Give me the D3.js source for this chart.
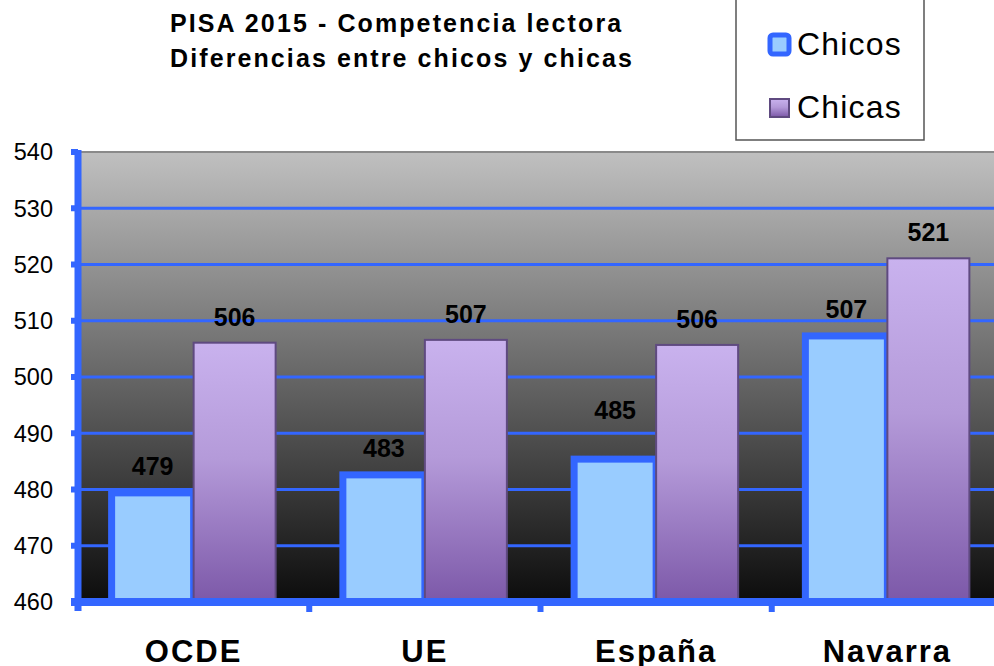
<!DOCTYPE html>
<html>
<head>
<meta charset="utf-8">
<script src="https://cdn.jsdelivr.net/npm/d3@7"></script>
<style>
  html, body { margin: 0; padding: 0; background: #fff; }
  svg { display: block; font-family: "Liberation Sans", Arial, sans-serif; }
</style>
</head>
<body>
<script>
var wW = 994;
var wH = 666;

// data
var categories = ["OCDE", "UE", "España", "Navarra"];
var seriesNames = ["Chicos", "Chicas"];
var chicos = [479.4, 482.6, 485.4, 507.3];
var chicas = [506.1, 506.6, 505.7, 521.1];
var yTicks = [460, 470, 480, 490, 500, 510, 520, 530, 540];
var titleLines = ["PISA 2015 - Competencia lectora", "Diferencias entre chicos y chicas"];

var blue = "#3366ff";

// the España "Chicos" label sits higher than the others in the original
var extraLift = { "España": 22 };

var svg = d3.select("body").append("svg")
  .attr("width", wW)
  .attr("height", wH);

var defs = svg.append("defs");

var bg = defs.append("linearGradient")
  .attr("id", "bgGrad")
  .attr("x1", 0).attr("y1", 0).attr("x2", 0).attr("y2", 1);
bg.append("stop").attr("offset", "0%").attr("stop-color", "#c0c0c0");
bg.append("stop").attr("offset", "100%").attr("stop-color", "#0c0c0c");

var pg = defs.append("linearGradient")
  .attr("id", "purpleGrad")
  .attr("x1", 0).attr("y1", 0).attr("x2", 0).attr("y2", 1);
pg.append("stop").attr("offset", "0%").attr("stop-color", "#c9b2ee");
pg.append("stop").attr("offset", "45%").attr("stop-color", "#b49ad9");
pg.append("stop").attr("offset", "100%").attr("stop-color", "#7c58a8");

// plot area
var pLeft = 78, pRight = 1003, pTop = 152, pBottom = 602;

var y = d3.scaleLinear().domain([460, 540]).range([pBottom, pTop]);
var x = d3.scaleBand().domain(categories).range([pLeft, pRight]).padding(0);
var xs = d3.scaleBand().domain(seriesNames).range([0, x.bandwidth()])
  .paddingInner(0).paddingOuter(0.41);

svg.append("rect")
  .attr("x", pLeft).attr("y", pTop)
  .attr("width", pRight - pLeft).attr("height", pBottom - pTop)
  .attr("fill", "url(#bgGrad)");

svg.append("line")
  .attr("x1", pLeft).attr("x2", pRight)
  .attr("y1", pTop).attr("y2", pTop)
  .attr("stroke", "#8a8a8a").attr("stroke-width", 2);

// gridlines
svg.append("g")
  .selectAll("line")
  .data(yTicks.filter(function(d) { return d > 460 && d < 540; }))
  .enter().append("line")
  .attr("x1", pLeft).attr("x2", pRight)
  .attr("y1", function(d) { return y(d); })
  .attr("y2", function(d) { return y(d); })
  .attr("stroke", blue).attr("stroke-width", 3);

// bars
var chicosG = svg.append("g");
categories.forEach(function(c, i) {
  chicosG.append("rect")
    .attr("x", x(c) + xs("Chicos"))
    .attr("y", y(chicos[i]))
    .attr("width", xs.bandwidth())
    .attr("height", pBottom - y(chicos[i]))
    .attr("fill", "#99ccff")
    .attr("stroke", blue)
    .attr("stroke-width", 7);
});

var chicasG = svg.append("g");
categories.forEach(function(c, i) {
  chicasG.append("rect")
    .attr("x", x(c) + xs("Chicas"))
    .attr("y", y(chicas[i]))
    .attr("width", xs.bandwidth())
    .attr("height", pBottom - y(chicas[i]))
    .attr("fill", "url(#purpleGrad)")
    .attr("stroke", "#5f4a80")
    .attr("stroke-width", 2);
});

// value labels
var labels = svg.append("g")
  .attr("font-size", 25)
  .attr("font-weight", "bold")
  .attr("fill", "#000")
  .attr("text-anchor", "middle");
categories.forEach(function(c, i) {
  labels.append("text")
    .attr("x", x(c) + xs("Chicos") + xs.bandwidth() / 2)
    .attr("y", y(chicos[i]) - 18 - (extraLift[c] || 0))
    .text(Math.round(chicos[i]));
  labels.append("text")
    .attr("x", x(c) + xs("Chicas") + xs.bandwidth() / 2)
    .attr("y", y(chicas[i]) - 17)
    .text(Math.round(chicas[i]));
});

// axes
var yAxis = svg.append("g");
yAxis.append("line")
  .attr("x1", pLeft).attr("x2", pLeft)
  .attr("y1", pTop - 2).attr("y2", pBottom + 9)
  .attr("stroke", blue).attr("stroke-width", 7);
yAxis.selectAll(".tk").data(yTicks).enter().append("line")
  .attr("x1", pLeft - 7).attr("x2", pLeft)
  .attr("y1", function(d) { return y(d); })
  .attr("y2", function(d) { return y(d); })
  .attr("stroke", blue).attr("stroke-width", 6);
yAxis.selectAll("text").data(yTicks).enter().append("text")
  .attr("x", 53)
  .attr("y", function(d) { return y(d); })
  .attr("dy", "0.36em")
  .attr("text-anchor", "end")
  .attr("font-size", 23.5)
  .attr("fill", "#000")
  .text(function(d) { return d; });

var xAxis = svg.append("g");
xAxis.append("line")
  .attr("x1", pLeft - 7).attr("x2", pRight)
  .attr("y1", pBottom).attr("y2", pBottom)
  .attr("stroke", blue).attr("stroke-width", 8);
xAxis.selectAll(".tk").data(categories.slice(1)).enter().append("line")
  .attr("x1", function(d) { return x(d); })
  .attr("x2", function(d) { return x(d); })
  .attr("y1", pBottom).attr("y2", pBottom + 10)
  .attr("stroke", blue).attr("stroke-width", 6);
xAxis.selectAll("text").data(categories).enter().append("text")
  .attr("x", function(d) { return x(d) + x.bandwidth() / 2; })
  .attr("y", 662)
  .attr("text-anchor", "middle")
  .attr("font-size", 31)
  .attr("font-weight", "bold")
  .attr("letter-spacing", 2)
  .attr("fill", "#000")
  .text(function(d) { return d; });

// title
svg.append("g").selectAll("text").data(titleLines).enter().append("text")
  .attr("x", 170)
  .attr("y", function(d, i) { return 32 + i * 35; })
  .attr("font-size", 25)
  .attr("font-weight", "bold")
  .attr("letter-spacing", 2.1)
  .attr("fill", "#000")
  .text(function(d) { return d; });

// legend
var legend = svg.append("g");
legend.append("rect")
  .attr("x", 736).attr("y", -10)
  .attr("width", 188).attr("height", 150)
  .attr("fill", "#fff")
  .attr("stroke", "#555").attr("stroke-width", 1.5);

legend.append("rect")
  .attr("x", 770).attr("y", 35)
  .attr("width", 19).attr("height", 19)
  .attr("rx", 3)
  .attr("fill", "#99ccff")
  .attr("stroke", blue).attr("stroke-width", 5);
legend.append("rect")
  .attr("x", 770).attr("y", 99)
  .attr("width", 19).attr("height", 18)
  .attr("fill", "url(#purpleGrad)")
  .attr("stroke", "#5f4a80").attr("stroke-width", 2);

legend.selectAll("text").data(seriesNames).enter().append("text")
  .attr("x", 797)
  .attr("y", function(d, i) { return 55 + i * 63; })
  .attr("font-size", 32)
  .attr("letter-spacing", 1.2)
  .attr("fill", "#000")
  .text(function(d) { return d; });
</script>
</body>
</html>
